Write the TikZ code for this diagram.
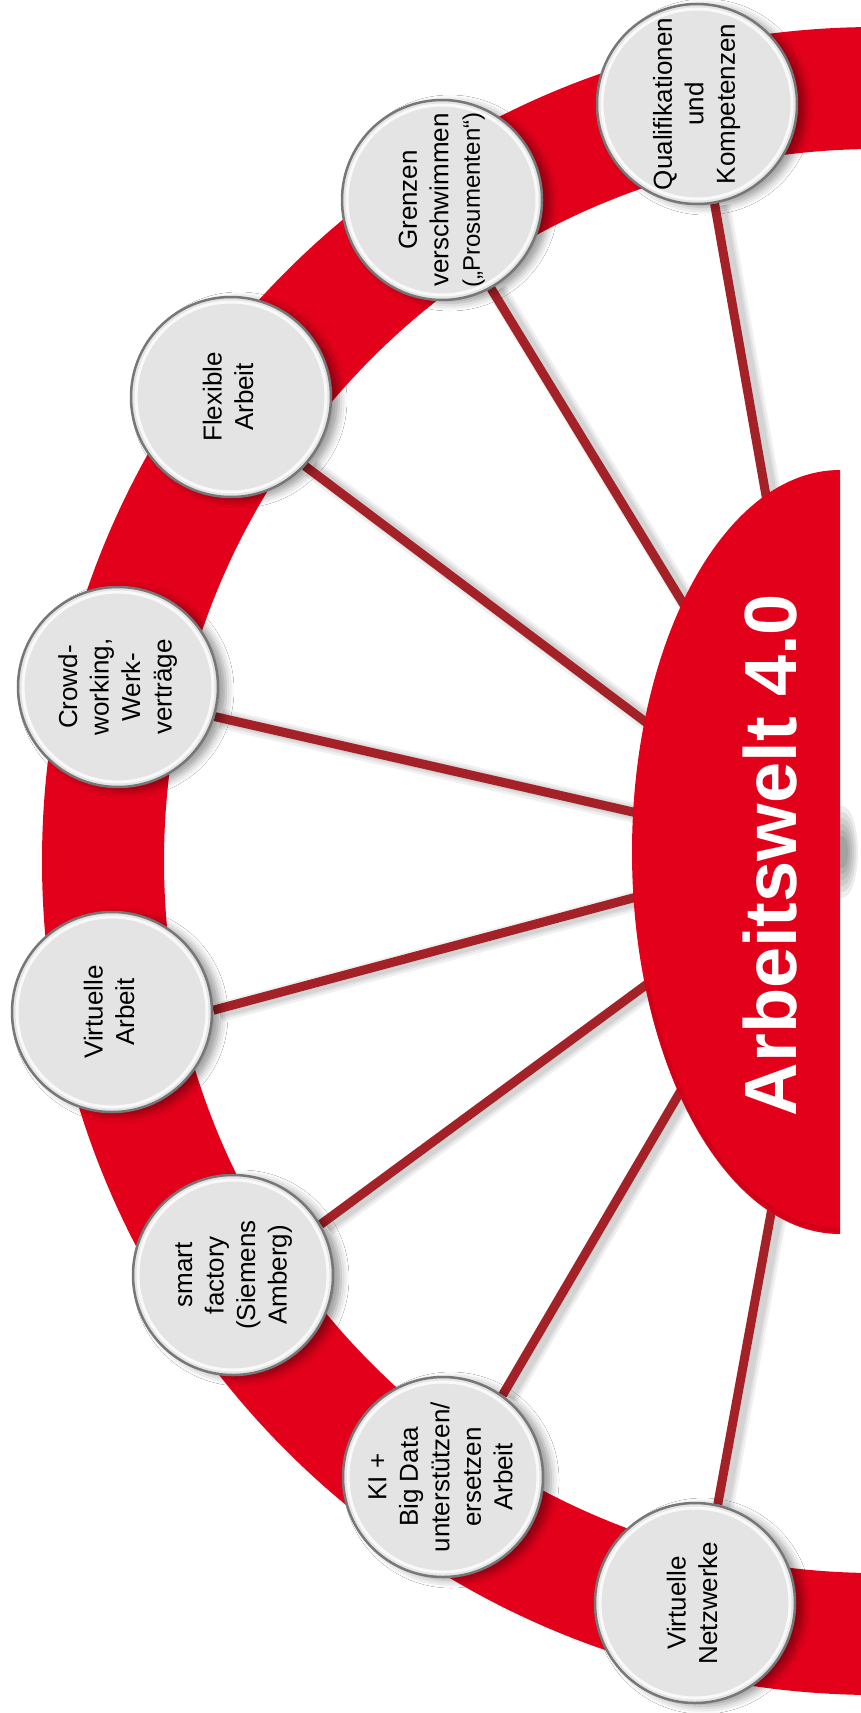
\documentclass[tikz,border=0pt]{standalone}
\usepackage{fontspec}
\setmainfont{Liberation Sans}
\usetikzlibrary{shadows.blur}
\definecolor{ringred}{HTML}{E2001A}
\definecolor{hubred}{HTML}{E2001A}
\definecolor{hubdark}{HTML}{B80016}
\definecolor{spokered}{HTML}{A32127}
\definecolor{bubblefill}{HTML}{E4E4E4}
\definecolor{bubbleedge}{HTML}{777777}
\pgfdeclarelayer{backlayer}
\pgfdeclarelayer{ringlayer}
\pgfdeclarelayer{spokelayer}
\pgfsetlayers{backlayer,ringlayer,spokelayer,main}
\newcommand{\btext}[1]{\rotatebox{90}{\begin{tabular}{@{}c@{}}#1\end{tabular}}}
\begin{document}
\begin{tikzpicture}[x=1pt,y=-1pt,
  bubble/.style={circle, minimum size=200pt, inner sep=0pt, fill=bubblefill,
    draw=bubbleedge, line width=2.5pt,
    blur shadow={shadow xshift=8pt, shadow yshift=-3pt, shadow blur radius=8pt, shadow opacity=40},
    path picture={\draw[white, line width=3pt, opacity=.8]
      (path picture bounding box.center) circle[radius=95pt];},
    font=\fontsize{26}{31.5}\selectfont, text=black},
  spoke/.style={draw=spokered, line width=9pt},
  spokeshadow/.style={draw=black, opacity=.06},
  hubtext/.style={rotate=90, text=white, font=\bfseries\fontsize{74}{80}\selectfont, inner sep=0pt}
]
\useasboundingbox (0,0) rectangle (861,1713);

% bubbles (placed first, their shadows are built here)
\node[bubble] (q)  at (697,104)  {\btext{Qualifikationen\\und\\Kompetenzen}};
\node[bubble] (g)  at (442,200)  {\btext{Grenzen\\verschwimmen\\{\fontsize{24}{29}\selectfont („Prosumenten“)}}};
\node[bubble] (f)  at (231,397)  {\btext{Flexible\\Arbeit}};
\node[bubble] (c)  at (118,687)  {\btext{Crowd-\\working,\\Werk-\\verträge}};
\node[bubble] (va) at (112,1012) {\btext{Virtuelle\\Arbeit}};
\node[bubble] (s)  at (233,1275) {\btext{smart\\factory\\(Siemens\\Amberg)}};
\node[bubble, inner sep=-11pt] (ki) at (443,1477) {\btext{KI +\\Big Data\\unterstützen/\\ersetzen\\Arbeit}};
\node[bubble] (n)  at (695,1603) {\btext{Virtuelle\\Netzwerke}};

% spoke ends inside the hub
\coordinate (hub) at (840,852);
\coordinate (qe)  at (802,700);
\coordinate (ge)  at (742,700);
\coordinate (fe)  at (760,808);
\coordinate (ce)  at (760,841);
\coordinate (vae) at (760,864);
\coordinate (se)  at (760,901);
\coordinate (kie) at (734,1000);
\coordinate (ne)  at (810,1000);

\begin{pgfonlayer}{backlayer}
  \fill[white] (0,0) rectangle (861,1713);
\end{pgfonlayer}

% ring
\begin{pgfonlayer}{ringlayer}
  \fill[ringred, even odd rule] (876,861) circle[radius=834] (876,861) circle[radius=712];
\end{pgfonlayer}

% spokes
\begin{pgfonlayer}{spokelayer}
  \foreach \b/\a in {q/-80.8,g/-61.7,f/-43,c/-17.7,va/1.1,s/30,ki/54,n/77}{
    \foreach \w in {20,15,11}{
      \draw[spokeshadow, line width=\w pt, transform canvas={xshift=6pt,yshift=-2pt}] (\b.\a) -- (\b e);
    }
  }
  \foreach \b/\a in {q/-80.8,g/-61.7,f/-43,c/-17.7,va/1.1,s/30,ki/54,n/77}{
    \draw[spoke] (\b.\a) -- (\b e);
  }
\end{pgfonlayer}

% hub shadow smudge at flat edge
\foreach \r in {1,...,6}{
  \fill[black, opacity=.07] (842,852) ellipse[x radius=4+2*\r, y radius=10+6*\r];
}
% hub
\fill[hubred] (840,1234) arc[start angle=90, end angle=270, x radius=208, y radius=382] -- cycle;
\draw[hubdark, line width=4pt, opacity=.45] (840,1230) arc[start angle=90, end angle=160, x radius=206, y radius=378];
\node[hubtext] (hubtitle) at (770,855) {Arbeitswelt 4.0};
\end{tikzpicture}
\end{document}
